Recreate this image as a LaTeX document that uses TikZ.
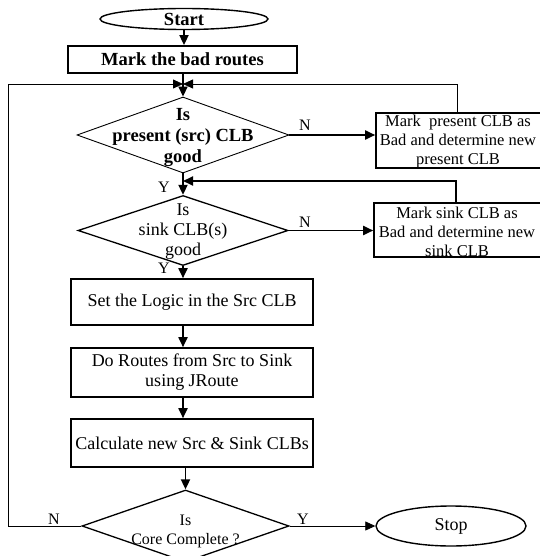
\documentclass[tikz,border=0pt]{standalone}
\usepackage{fontspec}
\setmainfont{Liberation Serif}
\usetikzlibrary{arrows.meta,shapes.geometric,calc}
\begin{document}
\begin{tikzpicture}[x=1pt,y=-1pt,
  reg/.style={font=\fontsize{18}{20}\selectfont},
  rsm/.style={font=\fontsize{16.5}{19}\selectfont},
  bld/.style={font=\fontsize{18.5}{21}\selectfont\bfseries},
  sml/.style={font=\fontsize{16}{19}\selectfont},
  lab/.style={font=\fontsize{16}{16}\selectfont,inner sep=0pt},
  boxn/.style={draw,rectangle,inner sep=0pt,align=center,line width=1.6pt},
  dian/.style={draw,diamond,inner sep=0pt,line width=0.9pt},
  ovaln/.style={draw,ellipse,inner sep=0pt,line width=1.4pt},
  txt/.style={inner sep=0pt,align=center},
  arr/.style={line width=1.8pt,-{Triangle[length=10pt,width=9pt]}},
  thinarr/.style={line width=0.8pt,-{Triangle[length=10pt,width=9pt]}},
  thinln/.style={line width=0.8pt}]
\useasboundingbox (0,0) rectangle (539,556);
\fill[white] (0,0) rectangle (539,556);

% nodes
\node[ovaln,bld,minimum width=168pt,minimum height=21pt] (start) at (184,19) {Start};
\node[boxn,bld,minimum width=229pt,minimum height=27pt,line width=1.8pt] (mark) at (182.5,59.5) {Mark the bad routes};
\node[dian,minimum width=212pt,minimum height=76pt] (d1) at (183,135) {};
\node[txt,bld] (d1t) at (183,137) {Is\\present (src) CLB\\good};
\node[boxn,minimum width=170pt,minimum height=55pt] (box1) at (461,140.5) {};
\node[txt,rsm] (box1t) at (458,142) {Mark\ \ present CLB as\\Bad and determine new\\present CLB};
\node[dian,minimum width=210pt,minimum height=70pt,line width=1.3pt] (d2) at (183,230.5) {};
\node[txt,reg] (d2t) at (183,232) {Is\\sink CLB(s)\\good};
\node[boxn,minimum width=167pt,minimum height=54pt] (box2) at (457.5,230) {};
\node[txt,rsm] (box2t) at (457,232) {Mark sink CLB as\\Bad and determine new\\sink CLB};
\node[boxn,reg,minimum width=242pt,minimum height=46pt] (set) at (192,302) {Set the Logic in the Src CLB};
\node[boxn,reg,minimum width=242pt,minimum height=49pt] (do) at (192,372.5) {Do Routes from Src to Sink\\using JRoute};
\node[boxn,reg,minimum width=242pt,minimum height=48pt] (calc) at (192,443) {Calculate new Src \& Sink CLBs};
\node[dian,minimum width=207pt,minimum height=72pt,line width=1.3pt] (d3) at (185.5,526) {};
\node[txt,sml] (d3t) at (185.5,531) {Is\\Core Complete ?};
\node[ovaln,reg,minimum width=150pt,minimum height=40pt] (stop) at (451,526) {Stop};

% labels
\node[lab] (n1) at (305,125) {N};
\node[lab] (n2) at (305,222) {N};
\node[lab] (y1) at (164,187) {Y};
\node[lab] (y2) at (164,268) {Y};
\node[lab] (n3) at (54,519) {N};
\node[lab] (y3) at (303,519) {Y};

% helper coordinates
\coordinate (m1) at (183,84);
\coordinate (m2) at (183,181);
\coordinate (lc) at (8,84);
\coordinate (b1t) at ($(box1.north west)+(82,0)$);
\coordinate (b2t) at ($(box2.north west)+(83,0)$);

% connectors
\draw[arr] (start.south) -- (start.south |- mark.north);
\draw[arr] (mark.south -| d1.north) -- (d1.north);
\draw[thinln] (d3.west) -| (lc);
\draw[thinarr] (lc) -- (m1);
\draw[thinarr] (b1t) |- (m1);
\draw[arr] (d1.east) -- (d1.east -| box1.west);
\draw[arr] (d1.south) -- (d2.north);
\draw[arr] (b2t) |- (m2);
\draw[arr] (d2.east) -- (d2.east -| box2.west);
\draw[arr] (d2.south) -- (d2.south |- set.north);
\draw[arr] (set.south -| d2.south) -- (do.north -| d2.south);
\draw[arr] (do.south -| d2.south) -- (calc.north -| d2.south);
\draw[arr] (calc.south -| d3.north) -- (d3.north);
\draw[thinarr] (d3.east) -- (stop.west);
\end{tikzpicture}
\end{document}
